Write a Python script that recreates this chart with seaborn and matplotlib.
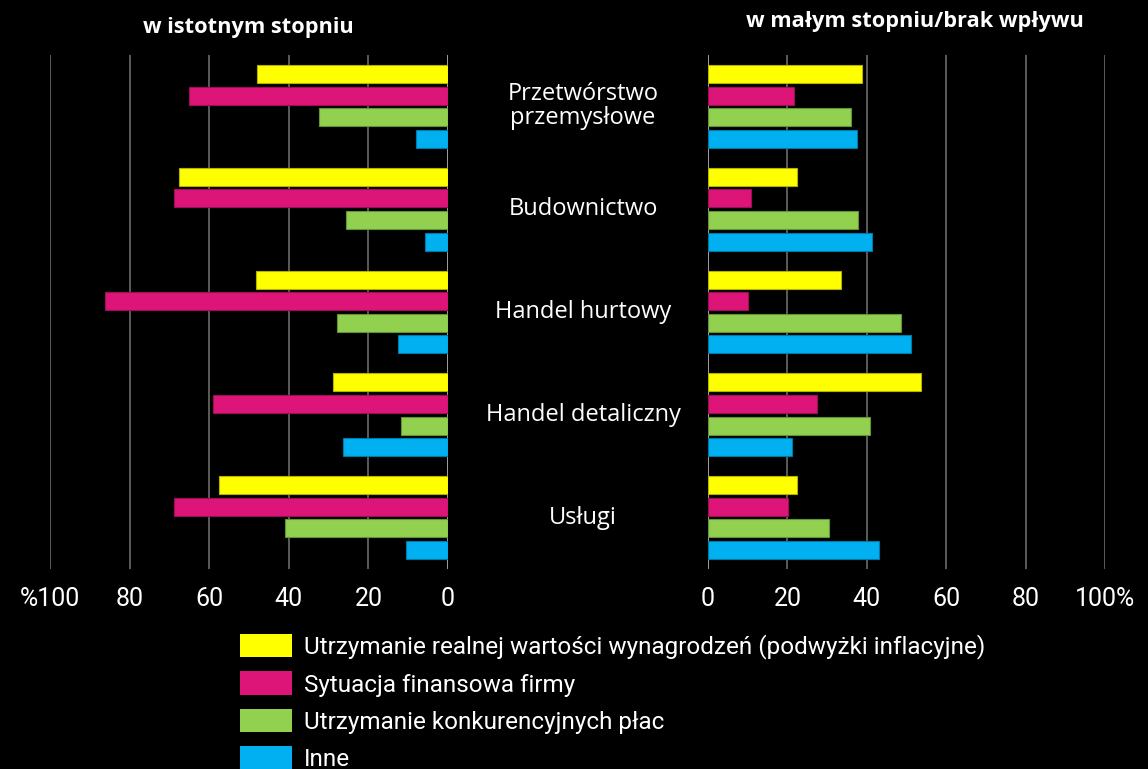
import pandas as pd
import numpy as np
import seaborn as sns
import matplotlib.pyplot as plt
import matplotlib.transforms as mtransforms
from matplotlib.colors import to_rgb

# dane
sektory = ['Przetwórstwo\nprzemysłowe', 'Budownictwo', 'Handel hurtowy',
           'Handel detaliczny', 'Usługi']
serie = ['Utrzymanie realnej wartości wynagrodzeń (podwyżki inflacyjne)',
         'Sytuacja finansowa firmy',
         'Utrzymanie konkurencyjnych płac',
         'Inne']
kolory = ['#FFFF00', '#DE1578', '#92D050', '#00B0F0']

# w istotnym stopniu
istotny_inflacja = [48.0, 67.6, 48.2, 28.9, 57.5]
istotny_finanse = [65.1, 68.8, 86.2, 59.0, 68.8]
istotny_konkur = [32.4, 25.6, 27.9, 11.8, 41.0]
istotny_inne = [8.0, 5.8, 12.6, 26.4, 10.6]

# w małym stopniu / brak wpływu
maly_inflacja = [38.8, 22.4, 33.5, 53.7, 22.4]
maly_finanse = [21.7, 10.8, 10.1, 27.5, 20.2]
maly_konkur = [36.0, 37.8, 48.6, 40.8, 30.5]
maly_inne = [37.5, 41.3, 51.1, 21.2, 43.1]

ticks = [0, 20, 40, 60, 80, 100]
ticks_lewe = ['0', '20', '40', '60', '80', '%100']
ticks_prawe = ['0', '20', '40', '60', '80', '100%']


def do_tabeli(kolumny):
    rows = []
    for s, vals in zip(serie, kolumny):
        for sek, v in zip(sektory, vals):
            rows.append({'sektor': sek, 'seria': s, 'wartosc': v})
    return pd.DataFrame(rows)


df_l = do_tabeli([istotny_inflacja, istotny_finanse, istotny_konkur, istotny_inne])
df_p = do_tabeli([maly_inflacja, maly_finanse, maly_konkur, maly_inne])

sns.set_style('dark')
plt.rcParams['font.family'] = ['Open Sans', 'DejaVu Sans']
narrow = ['Roboto', 'DejaVu Sans']

fig = plt.figure(figsize=(11.48, 7.69), dpi=100, facecolor='black')
ax_l = fig.add_axes([50 / 1148, 1 - 569 / 769, 398 / 1148, 514 / 769])
ax_p = fig.add_axes([708 / 1148, 1 - 569 / 769, 397 / 1148, 514 / 769])

for ax, df in [(ax_l, df_l), (ax_p, df_p)]:
    ax.set_facecolor('black')
    sns.barplot(data=df, y='sektor', x='wartosc', hue='seria', orient='h',
                palette=kolory, saturation=1, width=0.84, gap=0.16, ax=ax,
                legend=False, linewidth=0.8)
    for p in ax.patches:
        c = np.array(to_rgb(p.get_facecolor()))
        p.set_edgecolor(c * 0.7)
    ax.set_ylim(4.5, -0.5)
    ax.set_xticks(ticks)
    ax.set_yticks([])
    ax.set_xlabel('')
    ax.set_ylabel('')
    for s in ax.spines.values():
        s.set_visible(False)
    for t in ticks:
        ax.axvline(t, color='#bbbbbb' if t == 0 else '#6a6a6a', lw=1.2, zorder=0)
    ax.grid(False)
    ax.tick_params(axis='x', length=0, pad=13, labelcolor='white', labelsize=18)

ax_l.set_xlim(100, 0)
ax_p.set_xlim(0, 100)
ax_l.set_xticklabels(ticks_lewe)
ax_p.set_xticklabels(ticks_prawe)
for ax in (ax_l, ax_p):
    for lab in ax.get_xticklabels():
        lab.set_family(narrow)

# etykiety sektorów pośrodku
tr = mtransforms.blended_transform_factory(fig.transFigure, ax_p.transData)
for i, sek in enumerate(sektory):
    fig.text(583 / 1148, i, sek, transform=tr, ha='center', va='center',
             color='white', fontsize=17, linespacing=1.0)

fig.text(248 / 1148, 1 - 27 / 769, 'w istotnym stopniu', ha='center', va='center',
         color='white', fontsize=15.7, fontweight='bold')
fig.text(915 / 1148, 1 - 22 / 769, 'w małym stopniu/brak wpływu', ha='center',
         va='center', color='white', fontsize=15.7, fontweight='bold')

handles = [plt.Rectangle((0, 0), 1, 1, facecolor=c, edgecolor='none') for c in kolory]
leg = fig.legend(handles, serie, loc='upper left',
                 bbox_to_anchor=(230 / 1148, 1 - 624 / 769),
                 frameon=False, prop={'family': narrow, 'size': 17.5},
                 handlelength=2.15, handleheight=1.12, labelspacing=0.5,
                 handletextpad=0.5, borderaxespad=0)
for t in leg.get_texts():
    t.set_color('white')

fig.savefig('out.png', dpi=100, facecolor='black')
